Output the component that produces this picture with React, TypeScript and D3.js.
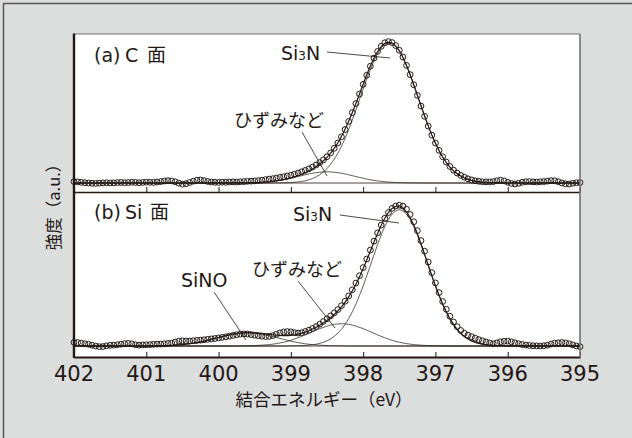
import React, { useEffect, useRef } from "react";
import * as d3 from "d3";

// binding energy grid of the measured points (eV)
const energies = [
  402, 401.95, 401.9, 401.85, 401.8, 401.75, 401.7, 401.65, 401.6, 401.55,
  401.5, 401.45, 401.4, 401.35, 401.3, 401.25, 401.2, 401.15, 401.1, 401.05,
  401, 400.95, 400.9, 400.85, 400.8, 400.75, 400.7, 400.65, 400.6, 400.55,
  400.5, 400.45, 400.4, 400.35, 400.3, 400.25, 400.2, 400.15, 400.1, 400.05,
  400, 399.95, 399.9, 399.85, 399.8, 399.75, 399.7, 399.65, 399.6, 399.55,
  399.5, 399.45, 399.4, 399.35, 399.3, 399.25, 399.2, 399.15, 399.1, 399.05,
  399, 398.95, 398.9, 398.85, 398.8, 398.75, 398.7, 398.65, 398.6, 398.55,
  398.5, 398.45, 398.4, 398.35, 398.3, 398.25, 398.2, 398.15, 398.1, 398.05,
  398, 397.95, 397.9, 397.85, 397.8, 397.75, 397.7, 397.65, 397.6, 397.55,
  397.5, 397.45, 397.4, 397.35, 397.3, 397.25, 397.2, 397.15, 397.1, 397.05,
  397, 396.95, 396.9, 396.85, 396.8, 396.75, 396.7, 396.65, 396.6, 396.55,
  396.5, 396.45, 396.4, 396.35, 396.3, 396.25, 396.2, 396.15, 396.1, 396.05,
  396, 395.95, 395.9, 395.85, 395.8, 395.75, 395.7, 395.65, 395.6, 395.55,
  395.5, 395.45, 395.4, 395.35, 395.3, 395.25, 395.2, 395.15, 395.1, 395.05,
  395,
];

// (a) C face, measured intensity (a.u., peak ~100)
const dataA = [
  1.0, 0.8, 0.5, 0.2, 0.0, -0.2, -0.3, -0.1, 0.1, 0.2,
  0.0, 0.1, 0.3, 0.4, 0.2, 0.3, 0.5, 0.4, 0.2, 0.4,
  0.6, 0.5, 0.4, 0.7, 1.0, 1.4, 1.7, 1.5, 0.9, -0.1,
  -0.8, -0.5, 0.4, 1.3, 2.0, 2.1, 1.7, 1.1, 0.7, 0.5,
  0.4, 0.6, 0.5, 0.7, 0.8, 0.7, 0.9, 1.0, 1.2, 1.3,
  1.5, 1.7, 2.0, 2.4, 2.8, 3.1, 3.5, 4.0, 4.5, 5.0,
  5.6, 6.3, 7.1, 8.0, 9.0, 10.1, 11.4, 12.9, 14.6, 16.5,
  18.8, 21.5, 24.8, 28.6, 33.0, 38.2, 44.0, 50.3, 56.8, 63.6,
  70.5, 77.0, 83.4, 89.2, 94.0, 97.6, 100.2, 101.0, 100.3, 98.2,
  94.8, 90.0, 84.0, 77.4, 70.2, 62.6, 55.0, 47.6, 40.6, 34.2,
  28.5, 23.3, 18.8, 15.0, 11.8, 9.2, 7.1, 5.4, 4.1, 3.0,
  2.2, 1.6, 1.2, 0.9, 0.8, 0.8, 1.0, 1.6, 2.0, 1.5,
  0.5, -0.3, -0.7, -0.2, 0.5, 0.9, 1.0, 0.8, 0.7, 0.9,
  1.0, 1.3, 1.7, 1.6, 0.9, 0.0, -0.6, -0.7, -0.2, 0.2,
  0.3,
];

// (b) Si face, measured intensity
const dataB = [
  2.6, 2.5, 2.1, 1.6, 1.2, 0.6, 0.0, -0.5, -0.4, 0.1,
  0.5, 0.6, 0.9, 1.3, 1.7, 1.9, 1.6, 0.9, 0.6, 0.8,
  0.9, 1.0, 1.2, 1.3, 1.4, 1.6, 1.8, 2.1, 2.8, 3.5,
  3.7, 3.6, 3.6, 3.8, 4.0, 4.2, 4.5, 4.8, 5.1, 5.4,
  5.8, 6.2, 6.6, 7.1, 7.6, 8.1, 8.5, 8.7, 8.6, 8.2,
  7.8, 7.4, 7.0, 6.8, 6.9, 7.5, 8.5, 9.4, 10.1, 10.4,
  10.2, 9.6, 9.3, 9.6, 10.4, 11.4, 12.6, 14.0, 15.7, 17.6,
  19.6, 21.7, 23.8, 26.2, 29.0, 32.2, 36.0, 40.4, 45.3, 50.6,
  56.4, 62.6, 69.0, 75.4, 81.4, 87.0, 91.9, 96.0, 99.0, 100.7,
  101.3, 100.6, 98.4, 94.6, 89.4, 83.0, 75.8, 68.2, 60.4, 52.8,
  45.4, 38.4, 32.0, 26.4, 21.4, 17.3, 13.9, 11.2, 9.2, 7.8,
  6.7, 5.6, 4.6, 3.7, 2.9, 2.2, 1.6, 2.2, 3.0, 3.4,
  3.5, 3.0, 2.3, 1.6, 1.1, 0.7, 0.4, 0.2, 0.1, 0.0,
  0.2, 0.6, 1.4, 2.0, 2.3, 2.5, 2.2, 1.6, 0.8, 0.0,
  -0.5,
];

// energy grid of the fitted components
const fitEnergies = [
  402, 401.9, 401.8, 401.7, 401.6, 401.5, 401.4, 401.3, 401.2, 401.1,
  401, 400.9, 400.8, 400.7, 400.6, 400.5, 400.4, 400.3, 400.2, 400.1,
  400, 399.9, 399.8, 399.7, 399.6, 399.5, 399.4, 399.3, 399.2, 399.1,
  399, 398.9, 398.8, 398.7, 398.6, 398.5, 398.4, 398.3, 398.2, 398.1,
  398, 397.9, 397.8, 397.7, 397.6, 397.5, 397.4, 397.3, 397.2, 397.1,
  397, 396.9, 396.8, 396.7, 396.6, 396.5, 396.4, 396.3, 396.2, 396.1,
  396, 395.9, 395.8, 395.7, 395.6, 395.5, 395.4, 395.3, 395.2, 395.1,
  395,
];

const si3nA = [
  0, 0, 0, 0, 0, 0, 0, 0, 0, 0,
  0, 0, 0, 0, 0, 0, 0, 0, 0, 0,
  0, 0, 0, 0, 0, 0, 0, 0, 0.1, 0.1,
  0.3, 0.8, 1.6, 3.2, 5.9, 10.3, 17.0, 26.2, 38.2, 52.2,
  67.2, 81.2, 92.4, 98.9, 99.5, 94.2, 83.8, 70.1, 55.2, 40.8,
  28.4, 18.6, 11.4, 6.6, 3.6, 1.8, 0.9, 0.4, 0.2, 0.1,
  0, 0, 0, 0, 0, 0, 0, 0, 0, 0,
  0,
];

const strainA = [
  0, 0, 0, 0, 0, 0, 0, 0, 0, 0,
  0, 0, 0, 0, 0, 0, 0, 0, 0, 0,
  0, 0, 0, 0.1, 0.1, 0.3, 0.5, 0.9, 1.5, 2.3,
  3.4, 4.6, 5.9, 7.0, 7.7, 8.0, 7.7, 7.0, 5.9, 4.6,
  3.4, 2.3, 1.5, 0.9, 0.5, 0.3, 0.1, 0.1, 0, 0,
  0, 0, 0, 0, 0, 0, 0, 0, 0, 0,
  0, 0, 0, 0, 0, 0, 0, 0, 0, 0,
  0,
];

const si3nB = [
  0, 0, 0, 0, 0, 0, 0, 0, 0, 0,
  0, 0, 0, 0, 0, 0, 0, 0, 0, 0,
  0, 0, 0, 0, 0, 0, 0, 0, 0, 0,
  0.1, 0.2, 0.4, 0.9, 1.9, 3.7, 6.9, 12.0, 19.7, 30.1,
  43.2, 58.0, 73.0, 86.0, 94.8, 98.0, 94.8, 86.0, 73.0, 58.0,
  43.2, 30.1, 19.7, 12.0, 6.9, 3.7, 1.9, 0.9, 0.4, 0.2,
  0.1, 0, 0, 0, 0, 0, 0, 0, 0, 0,
  0,
];

const strainB = [
  0, 0, 0, 0, 0, 0, 0, 0, 0, 0,
  0, 0, 0, 0, 0, 0, 0, 0, 0, 0,
  0, 0, 0, 0.1, 0.1, 0.3, 0.6, 1.0, 1.7, 2.7,
  4.1, 5.9, 8.0, 10.3, 12.5, 14.3, 15.6, 16.0, 15.6, 14.3,
  12.5, 10.3, 8.0, 5.9, 4.1, 2.7, 1.7, 1.0, 0.6, 0.3,
  0.1, 0.1, 0, 0, 0, 0, 0, 0, 0, 0,
  0, 0, 0, 0, 0, 0, 0, 0, 0, 0,
  0,
];

const sinoB = [
  0, 0, 0, 0, 0, 0, 0, 0, 0, 0,
  0, 0.1, 0.2, 0.3, 0.6, 1.0, 1.6, 2.4, 3.5, 4.8,
  6.1, 7.4, 8.5, 9.2, 9.5, 9.2, 8.5, 7.4, 6.1, 4.8,
  3.5, 2.4, 1.6, 1.0, 0.6, 0.3, 0.2, 0.1, 0, 0,
  0, 0, 0, 0, 0, 0, 0, 0, 0, 0,
  0, 0, 0, 0, 0, 0, 0, 0, 0, 0,
  0, 0, 0, 0, 0, 0, 0, 0, 0, 0,
  0,
];

const xTicks = [402, 401, 400, 399, 398, 397, 396, 395];

const INK = "#231815";
const JP = '"Noto Sans CJK JP", "Noto Sans", sans-serif';
const LAT = '"DejaVu Sans", "Noto Sans CJK JP", sans-serif';

const App = () => {
  const ref = useRef<SVGSVGElement>(null);

  useEffect(() => {
    const svg = d3.select(ref.current);
    svg.selectAll("*").remove();

    const left = 74;
    const right = 580;
    const top = 34;
    const bottom = 357;
    const divider = 192;

    const x = d3.scaleLinear().domain([402, 395]).range([left, right]);

    const panels = [
      {
        y: d3.scaleLinear().domain([0, 100]).range([183, 43]),
        data: dataA,
        comps: [si3nA, strainA],
        axisY: divider,
        labels: false,
      },
      {
        y: d3.scaleLinear().domain([0, 100]).range([346, 207]),
        data: dataB,
        comps: [si3nB, strainB, sinoB],
        axisY: bottom,
        labels: true,
      },
    ];

    // background + outer frame
    svg.append("rect").attr("width", 632).attr("height", 438).attr("fill", "#dcdddd");
    svg
      .append("path")
      .attr("d", "M3.5,438V3.5H632")
      .attr("fill", "none")
      .attr("stroke", "#595757")
      .attr("stroke-width", 1.5);

    svg
      .append("rect")
      .attr("x", left)
      .attr("y", top)
      .attr("width", right - left)
      .attr("height", bottom - top)
      .attr("fill", "#fff");

    panels.forEach((p) => {
      const g = svg.append("g");

      // baseline
      g.append("line")
        .attr("x1", x(402))
        .attr("x2", x(395))
        .attr("y1", p.y(0))
        .attr("y2", p.y(0))
        .attr("stroke", INK)
        .attr("stroke-width", 0.8);

      const fitLine = d3
        .line<number>()
        .x((_, i) => x(fitEnergies[i]))
        .y((v) => p.y(v))
        .curve(d3.curveCatmullRom.alpha(0.5));

      p.comps.forEach((c) => {
        g.append("path")
          .attr("d", fitLine(c))
          .attr("fill", "none")
          .attr("stroke", INK)
          .attr("stroke-width", 0.7);
      });

      const envelope = fitEnergies.map((_, i) => d3.sum(p.comps, (c) => c[i]));
      g.append("path")
        .attr("d", fitLine(envelope))
        .attr("fill", "none")
        .attr("stroke", INK)
        .attr("stroke-width", 1.2);

      g.selectAll("circle.pt")
        .data(p.data)
        .enter()
        .append("circle")
        .attr("class", "pt")
        .attr("cx", (_, i) => x(energies[i]))
        .attr("cy", (d) => p.y(d))
        .attr("r", 2.9)
        .attr("fill", "none")
        .attr("stroke", INK)
        .attr("stroke-width", 1);

      // x axis with inward ticks
      const axis = g
        .append("g")
        .attr("transform", `translate(0,${p.axisY})`)
        .call(d3.axisBottom(x).tickValues(xTicks).tickSize(-5).tickSizeOuter(0).tickFormat(() => ""));
      axis.select(".domain").attr("stroke", INK).attr("stroke-width", p.labels ? 2.2 : 1.6);
      axis.selectAll(".tick line").attr("stroke", INK).attr("stroke-width", 1);

      if (p.labels) {
        g.selectAll("text.tk")
          .data(xTicks)
          .enter()
          .append("text")
          .attr("class", "tk")
          .attr("x", (d) => x(d))
          .attr("y", 381)
          .attr("text-anchor", "middle")
          .attr("font-family", LAT)
          .attr("font-size", 21)
          .attr("fill", INK)
          .text((d) => d);
      }
    });

    // plot frame
    svg.append("line").attr("x1", left).attr("x2", right).attr("y1", top).attr("y2", top)
      .attr("stroke", "#727171").attr("stroke-width", 1.2);
    svg.append("line").attr("x1", right).attr("x2", right).attr("y1", top).attr("y2", bottom)
      .attr("stroke", "#727171").attr("stroke-width", 1.6);
    svg.append("line").attr("x1", left).attr("x2", left).attr("y1", top - 0.6).attr("y2", bottom + 1)
      .attr("stroke", INK).attr("stroke-width", 2.4);

    const txt = (tx: number, ty: number, s: string, size = 18, fam = JP) =>
      svg
        .append("text")
        .attr("x", tx)
        .attr("y", ty)
        .attr("font-family", fam)
        .attr("font-size", size)
        .attr("fill", INK)
        .text(s);

    const si3n = (tx: number, ty: number) => {
      const t = svg
        .append("text")
        .attr("x", tx)
        .attr("y", ty)
        .attr("font-family", LAT)
        .attr("font-size", 19)
        .attr("fill", INK);
      t.append("tspan").text("Si");
      t.append("tspan").attr("font-size", 12).text("3");
      t.append("tspan").text("N");
    };

    const leader = (x1: number, y1: number, x2: number, y2: number) =>
      svg
        .append("line")
        .attr("x1", x1)
        .attr("y1", y1)
        .attr("x2", x2)
        .attr("y2", y2)
        .attr("stroke", INK)
        .attr("stroke-width", 0.8);

    // panel (a)
    txt(94, 62, "(a)", 19, LAT);
    txt(125, 62, "C", 19, LAT);
    txt(147, 62, "面", 19);
    si3n(281, 60);
    leader(327, 52, 390, 58);
    txt(234, 127, "ひずみなど", 18);
    leader(302, 132, 327, 176);

    // panel (b)
    txt(94, 219, "(b)", 19, LAT);
    txt(125, 219, "Si", 19, LAT);
    txt(150, 219, "面", 19);
    si3n(293, 221);
    leader(340, 215, 399, 223);
    txt(252, 276, "ひずみなど", 18);
    leader(298, 281, 335, 328);
    txt(181, 287, "SiNO", 19, LAT);
    leader(214, 292, 246, 340);

    // axis titles
    svg
      .append("text")
      .attr("x", 324)
      .attr("y", 406)
      .attr("text-anchor", "middle")
      .attr("font-family", JP)
      .attr("font-size", 17.5)
      .attr("fill", INK)
      .text("結合エネルギー（eV）");

    svg
      .append("text")
      .attr("transform", "translate(60,203) rotate(-90)")
      .attr("text-anchor", "middle")
      .attr("font-family", JP)
      .attr("font-size", 16.5)
      .attr("fill", INK)
      .text("強度（a.u.）");
  }, []);

  return (
    <div style={{ position: "fixed", left: 0, top: 0 }}>
      <svg ref={ref} width={632} height={438} style={{ display: "block" }} />
    </div>
  );
};

export default App;
